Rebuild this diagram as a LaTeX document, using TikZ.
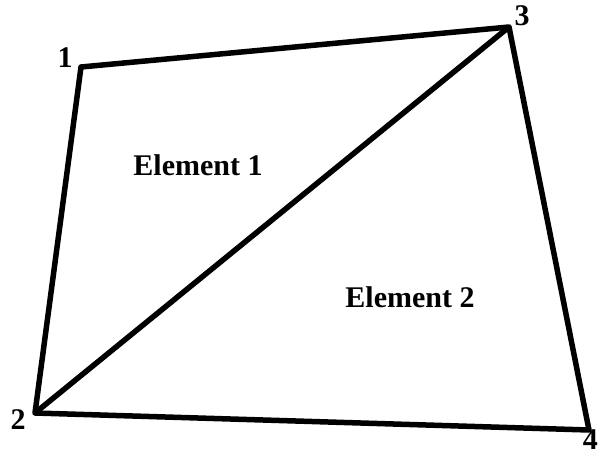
\documentclass[tikz,border=0pt]{standalone}
\usepackage{fontspec}
\setmainfont{Liberation Serif}

\begin{document}
\begin{tikzpicture}[x=1pt, y=1pt, font=\fontsize{30}{32}\selectfont\bfseries]
    \useasboundingbox (0,0) rectangle (599,451);
    % vertices
    \coordinate (v1) at (81, 384);
    \coordinate (v2) at (35, 38);
    \coordinate (v3) at (509, 424);
    \coordinate (v4) at (589, 21);
    \node (n1) at (65, 393) {1};
    \node (n2) at (18, 31) {2};
    \node (n3) at (522, 435) {3};
    \node[inner sep=1pt, anchor=south east] (n4) at (599, 0) {4};
    \draw[line width=5.5pt, line join=round] (v1) -- (v3) -- (v4) -- (v2) -- cycle;
    \draw[line width=5.5pt] (v2) -- (v3);
    \node (e1) at (198, 286) {Element 1};
    \node (e2) at (410, 154) {Element 2};
  \end{tikzpicture}
\end{document}
